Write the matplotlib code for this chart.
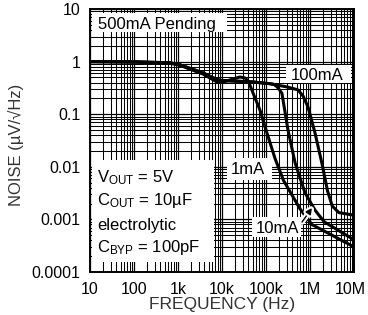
import numpy as np
import matplotlib
matplotlib.use('Agg')
import matplotlib.pyplot as plt
from matplotlib.patches import Rectangle
from matplotlib.ticker import LogLocator, NullFormatter
from matplotlib.transforms import ScaledTranslation
import matplotlib.patheffects as pe

plt.rcParams['font.family'] = ['Liberation Sans', 'DejaVu Sans']
plt.rcParams['mathtext.fontset'] = 'custom'
plt.rcParams['mathtext.rm'] = 'Liberation Sans'
plt.rcParams['mathtext.it'] = 'Liberation Sans:italic'

# noise curves (Hz, uV/rtHz)
freq_1ma = [10, 100, 660, 1100, 3700, 7700, 12000, 18000, 25700, 33000, 40000,
            50000, 73000, 100000, 160000, 250000, 590000, 1100000, 10000000]
noise_1ma = [1.0, 0.98, 0.93, 0.85, 0.58, 0.41, 0.42, 0.47, 0.51, 0.49, 0.42,
             0.26, 0.12, 0.05, 0.0145, 0.0055, 0.0016, 0.0008, 0.0003]

freq_10ma = [10, 100, 660, 1100, 3700, 6300, 9000, 50000, 123000, 150000, 180000,
             230000, 316000, 457000, 770000, 1300000, 2100000, 10000000]
noise_10ma = [1.0, 0.99, 0.95, 0.87, 0.61, 0.49, 0.44, 0.41, 0.38, 0.37, 0.33,
              0.25, 0.05, 0.012, 0.0032, 0.0015, 0.0009, 0.00041]

freq_100ma = [10, 100, 660, 1100, 3700, 6300, 9000, 50000, 123000, 300000, 533000,
              700000, 900000, 1300000, 1860000, 2500000, 3200000, 4500000, 10000000]
noise_100ma = [1.0, 0.99, 0.95, 0.87, 0.61, 0.49, 0.44, 0.41, 0.38, 0.33, 0.29,
               0.22, 0.137, 0.044, 0.0118, 0.0035, 0.0018, 0.00135, 0.0012]

xtick_vals = [10, 100, 1e3, 1e4, 1e5, 1e6, 1e7]
xtick_labels = ['10', '100', '1k', '10k', '100k', '1M', '10M']
ytick_vals = [1e-4, 1e-3, 1e-2, 1e-1, 1, 10]
ytick_labels = ['0.0001', '0.001', '0.01', '0.1', '1', '10']

W, H = 368, 315
AX_L, AX_R, AX_T, AX_B = 90, 354, 9, 272

fig = plt.figure(figsize=(W / 100, H / 100), dpi=100)
ax = fig.add_axes([AX_L / W, 1 - AX_B / H, (AX_R - AX_L) / W, (AX_B - AX_T) / H])


def fx(px):
    return (px - AX_L) / (AX_R - AX_L)


def fy(py):
    return (AX_B - py) / (AX_B - AX_T)


ax.set_xscale('log')
ax.set_yscale('log')

for axis in (ax.xaxis, ax.yaxis):
    axis.set_minor_locator(LogLocator(base=10, subs=np.arange(2, 10), numticks=100))
    axis.set_minor_formatter(NullFormatter())
ax.set_xticks(xtick_vals, xtick_labels)
ax.set_yticks(ytick_vals, ytick_labels)
ax.set_xlim(10, 1e7)
ax.set_ylim(1e-4, 10)

ax.grid(which='major', color='k', lw=0.9)
ax.grid(which='minor', color='k', lw=0.75)
ax.tick_params(which='both', length=0, labelsize=11.5, pad=7)
for s in ax.spines.values():
    s.set_linewidth(1.4)
    s.set_zorder(7)

# nudge the last x label inward so it stays on the canvas
last = ax.get_xticklabels()[-1]
last.set_transform(last.get_transform() + ScaledTranslation(-4 / 100, 0, fig.dpi_scale_trans))

for f, n in [(freq_100ma, noise_100ma), (freq_10ma, noise_10ma), (freq_1ma, noise_1ma)]:
    ax.plot(f, n, color='k', lw=2.2, solid_joinstyle='round', solid_capstyle='round', zorder=3)


def white_box(x0, y0, x1, y1):
    ax.add_patch(Rectangle((fx(x0), fy(y1)), fx(x1) - fx(x0), fy(y0) - fy(y1),
                           transform=ax.transAxes, fc='white', ec='none', zorder=4))


def label(px, py, s, size=12):
    ax.text(fx(px), fy(py), s, transform=ax.transAxes, fontsize=size,
            va='baseline', ha='left', zorder=5)


white_box(92, 13, 227, 32)
label(98, 29, '500mA Pending')

white_box(286, 65, 351, 83)
label(291, 80, '100mA')

white_box(227, 158, 272, 180)
label(231, 174, '1mA')

white_box(252, 217, 301, 237)
label(256, 233, '10mA')

white_box(92, 160, 214, 262)
label(97, 182, r'V$_{\rm OUT}$ = 5V')
label(97, 205, r'C$_{\rm OUT}$ = 10µF')
label(97, 230, 'electrolytic')
label(97, 252, r'C$_{\rm BYP}$ = 100pF')

ax.annotate('', xy=(1.11e6, 0.00165), xytext=(6.6e5, 0.00089),
            arrowprops=dict(arrowstyle='-|>', color='k', lw=1.0, mutation_scale=9,
                            shrinkA=0, shrinkB=0,
                            path_effects=[pe.withStroke(linewidth=4, foreground='white')]),
            zorder=6)

fig.text(16 / W, 1 - 145 / H, 'NOISE (µV/√Hz)', rotation=90, ha='center', va='center',
         fontsize=12, color='#333333')
fig.text(222 / W, 1 - 305 / H, 'FREQUENCY (Hz)', ha='center', va='center',
         fontsize=12.5, color='#333333')

fig.savefig('out.png', dpi=100)
